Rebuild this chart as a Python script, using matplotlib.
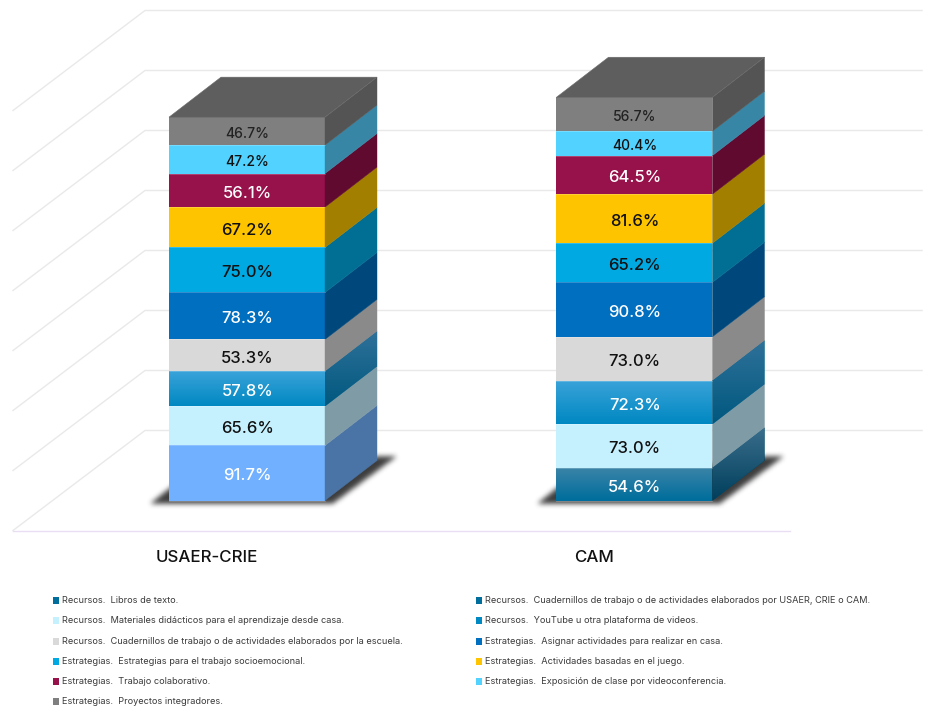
import numpy as np
import matplotlib
matplotlib.use("Agg")
import matplotlib.pyplot as plt
from matplotlib.patches import Polygon, Rectangle
from matplotlib.path import Path
from matplotlib.colors import LinearSegmentedColormap

plt.rcParams['font.family'] = ['Inter', 'DejaVu Sans']

categories = ["USAER-CRIE", "CAM"]
libros = [91.7, 0]
cuad_usaer = [0, 54.6]
materiales = [65.6, 73.0]
youtube = [57.8, 72.3]
cuad_escuela = [53.3, 73.0]
asignar = [78.3, 90.8]
socio = [75.0, 65.2]
juego = [67.2, 81.6]
colaborativo = [56.1, 64.5]
video = [47.2, 40.4]
proyectos = [46.7, 56.7]

stack = [
    (libros, "#70B0FF", "#4A74A6", None),
    (cuad_usaer, "#006E9C", "#004766", ("#3C84A8", "#006E9C", "#3A6E8C", "#003F5C")),
    (materiales, "#C5F1FF", "#7F9BA6", None),
    (youtube, "#0099D5", "#005F87", ("#3AA3D9", "#0088C2", "#2F7199", "#00587F")),
    (cuad_escuela, "#D9D9D9", "#8A8A8A", None),
    (asignar, "#006FC0", "#00487C", None),
    (socio, "#00A9E2", "#006F93", None),
    (juego, "#FFC400", "#A37F00", None),
    (colaborativo, "#97114A", "#600A30", None),
    (video, "#52D3FF", "#3886A6", None),
    (proyectos, "#7F7F7F", "#545454", None),
]
label_colors = ["white", "white", "#111111", "white", "#111111", "white",
                "#111111", "#111111", "white", "#111111", "#222222"]
small_labels = {9, 10}

legend_left = [
    ("Recursos.  Libros de texto.", "#006E9C"),
    ("Recursos.  Materiales didácticos para el aprendizaje desde casa.", "#C5F1FF"),
    ("Recursos.  Cuadernillos de trabajo o de actividades elaborados por la escuela.", "#D9D9D9"),
    ("Estrategias.  Estrategias para el trabajo socioemocional.", "#00A9E2"),
    ("Estrategias.  Trabajo colaborativo.", "#97114A"),
    ("Estrategias.  Proyectos integradores.", "#7F7F7F"),
]
legend_right = [
    ("Recursos.  Cuadernillos de trabajo o de actividades elaborados por USAER, CRIE o CAM.", "#006E9C"),
    ("Recursos.  YouTube u otra plataforma de videos.", "#0088C2"),
    ("Estrategias.  Asignar actividades para realizar en casa.", "#006FC0"),
    ("Estrategias.  Actividades basadas en el juego.", "#FFC400"),
    ("Estrategias.  Exposición de clase por videoconferencia.", "#52D3FF"),
]
grid_values = [0, 100, 200, 300, 400, 500, 600, 700]

W, H = 927, 707
PX_X = 387.5      # pixels per category step
PX_Y = 0.6        # pixels per percentage unit
BASE_PX = 500.5
fig = plt.figure(figsize=(W / 100, H / 100), dpi=100, facecolor="white")
ax = fig.add_axes([0, 0, 1, 1])
xlim = (-247 / PX_X, (W - 247) / PX_X)
ylim = (-(H - BASE_PX) / PX_Y, BASE_PX / PX_Y)
ax.set_xlim(*xlim)
ax.set_ylim(*ylim)
ax.axis("off")

bw = 156 / PX_X
dx, dy = 52 / PX_X, 40 / PX_Y

gx0, gx1, gxb = -234 / PX_X, 543 / PX_X, -102 / PX_X
gfront, gback = -30 / PX_Y, 70 / PX_Y
for v in grid_values:
    ax.plot([gx0, gxb, gx1 + 132 / PX_X], [gfront + v, gback + v, gback + v],
            color="#E9E9E9", lw=1.0, zorder=1, solid_joinstyle="miter")
ax.plot([gx0, gx1], [gfront, gfront], color="#EADFF2", lw=1.0, zorder=1.1)


def gradient(poly_pts, c_top, c_bot, zorder):
    xs = [p[0] for p in poly_pts]
    ys = [p[1] for p in poly_pts]
    cmap = LinearSegmentedColormap.from_list("g", [c_bot, c_top])
    im = ax.imshow(np.linspace(0, 1, 128)[:, None], origin="lower", cmap=cmap, aspect="auto",
                   extent=(min(xs), max(xs), min(ys), max(ys)), zorder=zorder)
    clip = Polygon(poly_pts, closed=True, transform=ax.transData, fc="none", ec="none")
    ax.add_patch(clip)
    im.set_clip_path(clip)


def box_blur(a, n):
    k = np.ones(n) / n
    for _ in range(3):
        a = np.apply_along_axis(lambda m: np.convolve(m, k, mode="same"), 0, a)
        a = np.apply_along_axis(lambda m: np.convolve(m, k, mode="same"), 1, a)
    return a


def soft_shadow(pts):
    pts = np.array(pts)
    x0, x1 = pts[:, 0].min() - 30 / PX_X, pts[:, 0].max() + 30 / PX_X
    y0, y1 = pts[:, 1].min() - 30 / PX_Y, pts[:, 1].max() + 30 / PX_Y
    nx, ny = int((x1 - x0) * PX_X), int((y1 - y0) * PX_Y)
    gx, gy = np.meshgrid(np.linspace(x0, x1, nx), np.linspace(y0, y1, ny))
    mask = Path(pts).contains_points(np.c_[gx.ravel(), gy.ravel()]).reshape(gx.shape).astype(float)
    mask = box_blur(mask, 5)
    rgba = np.zeros(mask.shape + (4,))
    rgba[..., :3] = 0.2
    rgba[..., 3] = mask * 0.95
    ax.imshow(rgba, origin="lower", aspect="auto", extent=(x0, x1, y0, y1), zorder=2,
              interpolation="bilinear")


x_pos = np.arange(len(categories))
for i, x in enumerate(x_pos):
    l, r = x - bw / 2, x + bw / 2
    soft_shadow([(l - 19 / PX_X, -3.5 / PX_Y), (l + 4 / PX_X, 15 / PX_Y),
                 (r + dx + 2 / PX_X, 44 / PX_Y), (r + dx + 20 / PX_X, 44 / PX_Y),
                 (r + 8 / PX_X, -3.5 / PX_Y)])
    base = 0.0
    for k, (vals, col, side, grad) in enumerate(stack):
        v = vals[i]
        if not v:
            continue
        top = base + v
        ax.bar(x, v, bw, bottom=base, color=col, edgecolor="none", zorder=3)
        side_pts = [(r, base), (r + dx, base + dy), (r + dx, top + dy), (r, top)]
        ax.add_patch(Polygon(side_pts, closed=True, fc=side, ec=side, lw=0.3, zorder=3))
        if grad:
            gradient([(l, base), (r, base), (r, top), (l, top)], grad[0], grad[1], 3.1)
            gradient(side_pts, grad[2], grad[3], 3.1)
        small = k in small_labels
        ax.text(x + 0.3 / PX_X, base + v / 2 - 3 / PX_Y, f"{v:.1f}%", ha="center", va="center",
                color=label_colors[k], fontsize=10.0 if small else 12.0, weight="medium", zorder=5)
        ax.plot([l, r], [base, base], color="#FFFFFF", lw=0.5, alpha=0.3, zorder=4)
        base = top
    ax.add_patch(Polygon([(l, base), (r, base), (r + dx, base + dy), (l + dx, base + dy)],
                         closed=True, fc="#5E5E5E", ec="#6A6A6A", lw=0.4, zorder=3))
    ax.text(x - 40 / PX_X, -57.5 / PX_Y, categories[i], ha="center", va="center",
            fontsize=12.2, weight="medium", color="#111111", zorder=5)
ax.set_xlim(*xlim)
ax.set_ylim(*ylim)

ov = fig.add_axes([0, 0, 1, 1])
ov.set_xlim(0, W)
ov.set_ylim(H, 0)
ov.axis("off")
ov.patch.set_alpha(0)
rows = [600.5, 620.7, 641, 661, 681, 701.5]
for col_x, items in ((53, legend_left), (476, legend_right)):
    for (txt, c), y in zip(items, rows):
        ov.add_patch(Rectangle((col_x, y - 3.5), 6, 7, fc=c, ec="none"))
        ov.text(col_x + 9, y, txt, fontsize=6.63, color="#3A3A3A", ha="left", va="center")

fig.savefig("out.png", dpi=100, facecolor="white")
